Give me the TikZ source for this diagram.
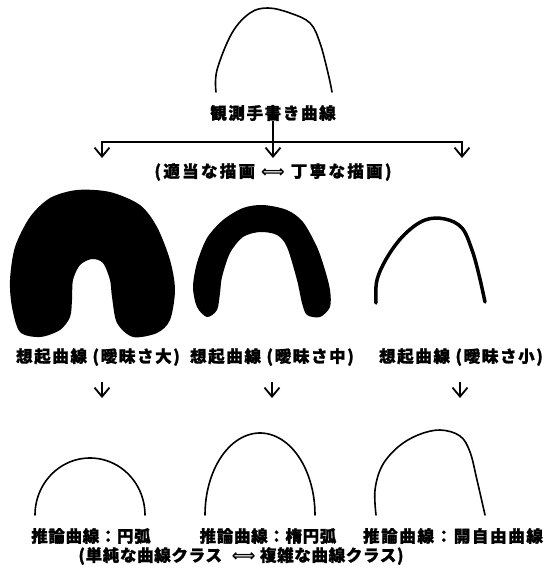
\documentclass[tikz,border=0pt]{standalone}
\usepackage{fontspec}
\setmainfont{Noto Sans CJK JP}
\newfontfamily\dv{DejaVu Sans}
\usetikzlibrary{arrows.meta}
\begin{document}
\begin{tikzpicture}[x=1pt,y=-1pt,
  lbl/.style={font=\fontsize{16.5}{18}\selectfont\bfseries\addfontfeature{LetterSpace=10,FakeBold=1.3}, inner sep=0pt, anchor=center},
  lblnarrow/.style={lbl, font=\fontsize{16.5}{18}\selectfont\bfseries\addfontfeature{LetterSpace=4,FakeBold=1.3}},
  lblwide/.style={lbl, font=\fontsize{16.5}{18}\selectfont\bfseries\addfontfeature{LetterSpace=14,FakeBold=1.3}},
  con/.style={line width=1.6pt},
  arr/.style={con, -{Straight Barb[length=9pt,width=15pt,line width=1.8pt]}},
  curve/.style={line width=1.6pt, line cap=round, line join=round},
  thin curve/.style={line width=3.5pt, line cap=round, line join=round},
  blob/.style={fill=black},
]
\useasboundingbox (0,0) rectangle (551,578);

% top observed curve
\draw[curve] plot[smooth, tension=0.6] coordinates {(216,92) (217,70) (232,33) (250,13) (268,8) (290,13) (310,23) (320,43) (328,73) (332,92)};
\node[lbl] (t1) at (273,113) {観測手書き曲線};

\coordinate (j) at (273,142);
\coordinate (al) at (102,158);
\coordinate (ac) at (273,158);
\coordinate (ar) at (462,158);
\draw[arr] (t1.south) -- (ac);
\draw[arr] (j) -| (al);
\draw[arr] (j) -| (ar);

\node[lblwide] (t2) at (273,172) {(適当な描画 {\dv ⟺} 丁寧な描画)};

% blobs
\fill[blob] plot[smooth cycle, tension=0.5] coordinates {(20,332) (12,307) (10,280) (15,247) (30,217) (50,198) (77,190) (110,192) (140,205) (157,227) (170,260) (175,290) (170,320) (157,333) (133,337) (117,323) (112,297) (110,280) (103,263) (92,259) (80,265) (73,280) (72,300) (70,317) (60,330) (40,337)};
\fill[blob] plot[smooth cycle, tension=0.5] coordinates {(207,317) (197,307) (193,287) (197,263) (207,238) (223,220) (243,208) (263,205) (287,210) (303,222) (317,247) (325,270) (330,290) (330,307) (320,317) (307,315) (302,303) (297,280) (287,247) (277,235) (260,232) (243,237) (230,253) (222,277) (220,293) (217,310)};
\draw[thin curve] plot[smooth, tension=0.6] coordinates {(376,303) (377,280) (388,256) (405,234) (425,220) (445,219) (462,228) (472,250) (479,275) (485,302)};

\node[lbl] (m1) at (98,357) {想起曲線 (曖昧さ大)};
\node[lbl] (m2) at (272,357) {想起曲線 (曖昧さ中)};
\node[lbl] (m3) at (461,357) {想起曲線 (曖昧さ小)};

\coordinate (s1) at (102,382); \coordinate (e1) at (102,398);
\coordinate (s2) at (272,382); \coordinate (e2) at (272,398);
\coordinate (s3) at (460,382); \coordinate (e3) at (460,398);
\draw[arr] (s1) -- (e1);
\draw[arr] (s2) -- (e2);
\draw[arr] (s3) -- (e3);

% inferred curves
\draw[curve] plot[domain=180:0, samples=60] ({90+55*cos(\x)}, {515-57*sin(\x)});
\draw[curve] plot[domain=180:0, samples=60] ({260+55*cos(\x)}, {515-82*sin(\x)});
\draw[curve] plot[smooth, tension=0.6] coordinates {(376,515) (375,490) (382,466) (398,447) (418,435) (440,430) (460,436) (470,452) (477,480) (485,515)};

\node[lblnarrow] (b1) at (91,536) {推論曲線：円弧};
\node[lblnarrow] (b2) at (268,536) {推論曲線：楕円弧};
\node[lbl] (b3) at (453,536) {推論曲線：開自由曲線};
\node[lblnarrow] (b4) at (241,556) {(単純な曲線クラス\hspace{10pt}{\dv ⟺} 複雑な曲線クラス)};
\end{tikzpicture}
\end{document}
